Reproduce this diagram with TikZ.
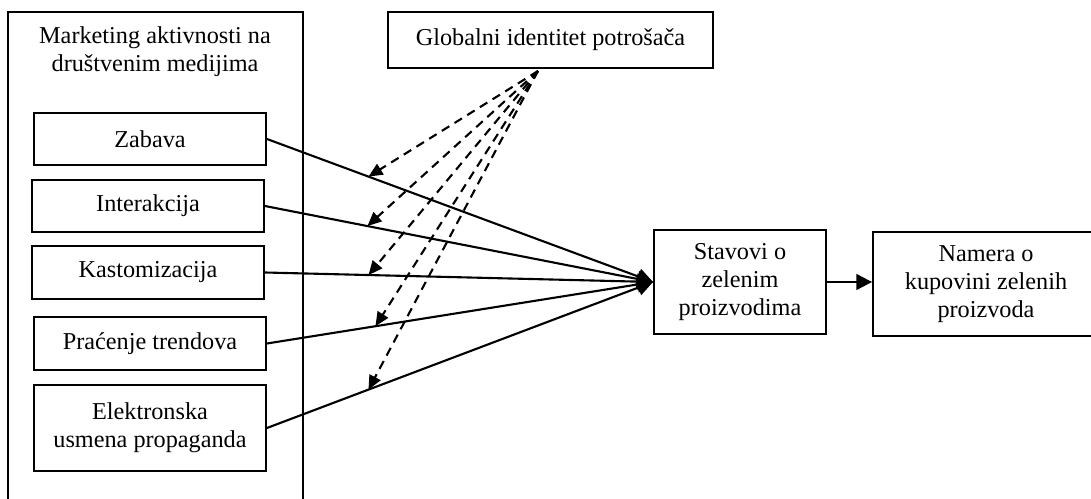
\documentclass[tikz,border=0pt]{standalone}
\usepackage{fontspec}
\setmainfont{Liberation Serif}
\usetikzlibrary{arrows.meta}

\tikzset{
  txt/.style={align=center, font=\fontsize{13.8}{16}\selectfont},
  box/.style={txt, draw, line width=1.1pt, inner sep=0pt},
  arr/.style={line width=1.2pt, -{Triangle[length=9pt,width=9pt]}},
  dasharr/.style={line width=1.2pt, dash pattern=on 5pt off 3.5pt, -{Triangle[length=8pt,width=7pt]}}
}

\begin{document}
\begin{tikzpicture}[x=0.02cm, y=-0.02cm]
\useasboundingbox (0,0) rectangle (1091,499);
\draw[line width=1.1pt] (8,499) |- (303,12) -- (303,499);
\node[txt] (naslov) at (155,52) {Marketing aktivnosti na\\društvenim medijima};
\node[box, minimum width=4.64cm, minimum height=1.04cm] (zabava) at (150,139) {Zabava};
\node[box, minimum width=4.64cm, minimum height=1.04cm] (interakcija) at (148,206) {Interakcija};
\node[box, minimum width=4.64cm, minimum height=1.06cm] (kastom) at (148,272.5) {Kastomizacija};
\node[box, minimum width=4.64cm, minimum height=1.06cm] (pracenje) at (150,343.5) {Praćenje trendova};
\node[box, minimum width=4.64cm, minimum height=1.72cm] (ewom) at (150,428) {Elektronska\\usmena propaganda};
\node[box, minimum width=6.5cm, minimum height=1.12cm] (globalni) at (550.5,40) {Globalni identitet potrošača};
\node[box, minimum width=3.44cm, minimum height=2.08cm] (stavovi) at (740,282) {Stavovi o\\zelenim\\proizvodima};
\node[box, minimum width=4.52cm, minimum height=2.08cm] (namera) at (986,284) {Namera o\\kupovini zelenih\\proizvoda};
\coordinate (izvor) at (538,71);

\draw[arr] (zabava.east) -- coordinate[pos=0.263] (m1) (stavovi.west);
\draw[arr] (interakcija.east) -- coordinate[pos=0.264] (m2) (stavovi.west);
\draw[arr] (kastom.east) -- coordinate[pos=0.267] (m3) (stavovi.west);
\draw[arr] (pracenje.east) -- coordinate[pos=0.281] (m4) (stavovi.west);
\draw[arr] (ewom.east) -- coordinate[pos=0.263] (m5) (stavovi.west);
\draw[arr] (stavovi.east) -- (stavovi.east -| namera.west);

\draw[dasharr] (izvor) -- (m1);
\draw[dasharr] (izvor) -- (m2);
\draw[dasharr] (izvor) -- (m3);
\draw[dasharr] (izvor) -- (m4);
\draw[dasharr] (izvor) -- (m5);
\end{tikzpicture}
\end{document}
